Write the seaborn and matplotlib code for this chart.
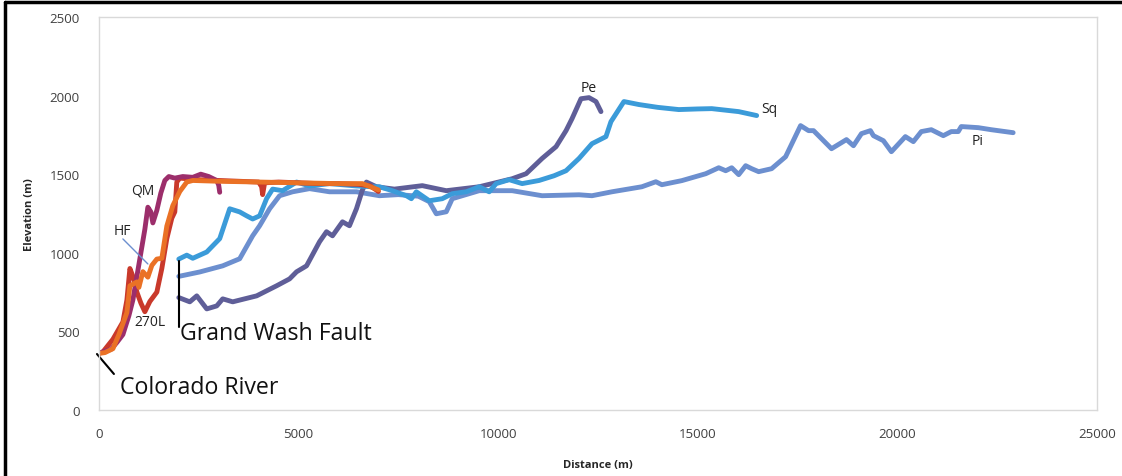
import pandas as pd
import matplotlib.pyplot as plt
import seaborn as sns
from matplotlib.lines import Line2D

# profile data (distance m, elevation m)
qm_x = [0, 150, 300, 450, 600, 750, 850, 950, 1050, 1150, 1225, 1300, 1350, 1450,
        1550, 1650, 1750, 1900, 2100, 2350, 2550, 2750, 2950, 3000, 3025]
qm_y = [360, 375, 385, 430, 480, 600, 700, 850, 1000, 1150, 1290, 1260, 1190, 1270,
        1380, 1460, 1485, 1475, 1485, 1480, 1500, 1485, 1460, 1430, 1385]

l270_x = [0, 100, 350, 600, 700, 775, 850, 950, 1050, 1150, 1275, 1450, 1575, 1700,
          1825, 1900, 1950, 2025, 2500, 3000, 3500, 4000, 4075, 4100, 4150, 4500,
          5000, 5500, 6000, 6500, 6800, 7000]
l270_y = [360, 370, 450, 560, 700, 900, 850, 750, 680, 625, 690, 750, 900, 1090,
          1220, 1260, 1450, 1475, 1465, 1460, 1455, 1450, 1420, 1370, 1445, 1450,
          1445, 1440, 1440, 1435, 1425, 1390]

hf_x = [0, 150, 350, 500, 700, 775, 850, 950, 1000, 1100, 1225, 1325, 1450, 1575,
        1700, 1850, 2025, 2200, 2350, 3000, 4000, 5000, 6000, 6600, 6800, 7000]
hf_y = [360, 365, 390, 480, 620, 790, 800, 815, 780, 880, 845, 920, 960, 965,
        1170, 1300, 1390, 1450, 1460, 1455, 1450, 1445, 1440, 1440, 1420, 1400]

sq_x = [2000, 2200, 2350, 2700, 3025, 3275, 3525, 3700, 3850, 4025, 4200, 4350, 4600,
        4950, 5275, 5775, 6450, 6850, 7025, 7350, 7700, 7825, 7950, 8275, 8600, 8850,
        9200, 9525, 9775, 9950, 10275, 10600, 11025, 11400, 11700, 12025, 12350,
        12700, 12825, 13150, 13525, 14000, 14525, 15000, 15350, 16025, 16475]
sq_y = [960, 985, 965, 1005, 1090, 1280, 1260, 1235, 1215, 1235, 1345, 1405, 1395,
        1450, 1425, 1440, 1425, 1420, 1420, 1395, 1363, 1344, 1388, 1331, 1344, 1376,
        1388, 1420, 1388, 1440, 1465, 1440, 1460, 1490, 1522, 1600, 1694,
        1739, 1834, 1962, 1943, 1925, 1911, 1915, 1917, 1898, 1873]

pi_x = [2000, 2525, 3100, 3525, 3850, 4025, 4275, 4525, 4850, 5275, 5775, 6450, 7025,
        7500, 8000, 8275, 8450, 8700, 8850, 9525, 10350, 11100, 12025, 12350, 12850,
        13600, 13950, 14100, 14600, 15200, 15525, 15700, 15850, 16025, 16200, 16350,
        16525, 16850, 17200, 17575, 17775, 17900, 18350, 18725, 18900, 19100, 19325,
        19400, 19650, 19850, 20200, 20400, 20600, 20850, 21150, 21350, 21525, 21600,
        22025, 22350, 22900]
pi_y = [850, 878, 917, 962, 1108, 1172, 1280, 1363, 1388, 1408, 1388, 1388, 1363,
        1370, 1360, 1325, 1248, 1261, 1344, 1395, 1395, 1363, 1369, 1363, 1388,
        1420, 1452, 1433, 1459, 1503, 1541, 1522, 1541, 1497, 1554, 1535,
        1516, 1535, 1611, 1809, 1777, 1777, 1662, 1720, 1681, 1758, 1777,
        1745, 1713, 1643, 1739, 1707, 1771, 1783, 1745, 1771, 1771, 1803,
        1796, 1783, 1764]

pe_x = [2000, 2275, 2450, 2700, 2950, 3100, 3350, 3950, 4450, 4775, 4950, 5200, 5525,
        5700, 5850, 6100, 6275, 6450, 6600, 6700, 6950, 7400, 8100, 8700, 9525, 10350,
        10700, 11100, 11450, 11700, 11850, 12075, 12275, 12450, 12575]
pe_y = [715, 688, 726, 643, 662, 707, 688, 726, 790, 834, 879, 917, 1070,
        1134, 1108, 1197, 1172, 1280, 1400, 1450, 1420, 1405, 1427, 1395, 1420, 1471,
        1503, 1600, 1675, 1777, 1853, 1980, 1987, 1962, 1898]

series = {
    'Pi': (pi_x, pi_y),
    'Pe': (pe_x, pe_y),
    'Sq': (sq_x, sq_y),
    '270L': (l270_x, l270_y),
    'QM': (qm_x, qm_y),
    'HF': (hf_x, hf_y),
}
colors = {'Pi': '#6C8FCF', 'Pe': '#5F5E98', 'Sq': '#3B9BD9',
          '270L': '#C9392B', 'QM': '#9C2E6B', 'HF': '#EA7125'}

frames = []
for name, (xs, ys) in series.items():
    frames.append(pd.DataFrame({'distance': xs, 'elevation': ys, 'profile': name}))
df = pd.concat(frames, ignore_index=True)

sns.set_theme(style='white')
plt.rcParams['font.family'] = ['Open Sans', 'DejaVu Sans']

fig = plt.figure(figsize=(11.22, 4.77), dpi=100)
ax = fig.add_axes([0.0882, 0.1384, 0.8895, 0.8239])

sns.lineplot(data=df, x='distance', y='elevation', hue='profile',
             hue_order=list(series.keys()), palette=colors, estimator=None,
             sort=False, linewidth=3.5, solid_capstyle='round',
             solid_joinstyle='round', legend=False, ax=ax)

ax.set_xlim(0, 25000)
ax.set_ylim(0, 2500)
ax.set_xticks(range(0, 25001, 5000))
ax.set_yticks(range(0, 2501, 500))
ax.tick_params(axis='both', length=0, labelsize=9.5, labelcolor='#404040')
ax.tick_params(axis='x', pad=12)
ax.tick_params(axis='y', pad=14)
for s in ax.spines.values():
    s.set_color('#D9D9D9')
    s.set_linewidth(1)
ax.set_xlabel('Distance (m)', fontsize=8, fontweight='bold', labelpad=14)
ax.set_ylabel('Elevation (m)', fontsize=8, fontweight='bold', labelpad=10)

# profile labels
lab = dict(fontsize=10, color='#222222')
ax.text(1100, 1400, 'QM', ha='center', va='center', **lab)
ax.text(580, 1140, 'HF', ha='center', va='center', **lab)
ax.text(1280, 566, '270L', ha='center', va='center', **lab)
ax.text(12260, 2050, 'Pe', ha='center', va='center', **lab)
ax.text(16600, 1915, 'Sq', ha='left', va='center', **lab)
ax.text(22000, 1715, 'Pi', ha='center', va='center', **lab)
ax.plot([600, 1225], [1088, 929], color='#6C8FCF', linewidth=1)

# fault and river annotations
ax.plot([2000, 2000], [950, 525], color='black', linewidth=1.5)
ax.text(2030, 490, 'Grand Wash Fault', ha='left', va='center', fontsize=16.7,
        color='#111111')
ax.plot([-50, 375], [356, 229], color='black', linewidth=1.5, clip_on=False)
ax.text(520, 145, 'Colorado River', ha='left', va='center', fontsize=16.7,
        color='#111111')

# outer frame (top and left edges visible)
fig.add_artist(Line2D([0.0045, 0.0045], [0, 0.994], color='black', linewidth=2.5))
fig.add_artist(Line2D([0.0045, 1], [0.994, 0.994], color='black', linewidth=2.5))

fig.savefig('out.png', dpi=100)
